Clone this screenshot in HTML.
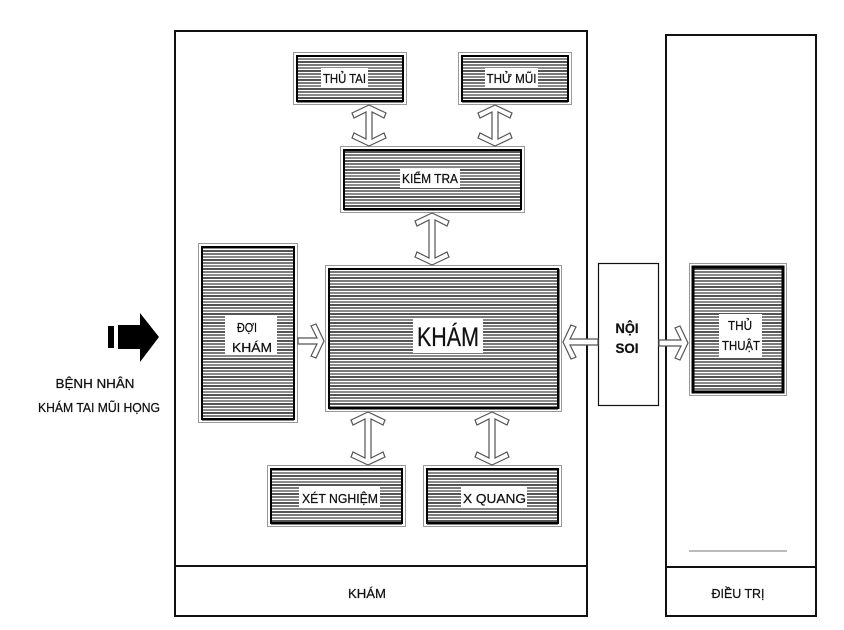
<!DOCTYPE html>
<html><head><meta charset="utf-8"><style>
html,body{margin:0;padding:0;background:#fff;}
svg{display:block;}
text{font-family:"Liberation Sans","DejaVu Sans",sans-serif;fill:#111;stroke:#111;stroke-width:0.25;}
</style></head><body>
<svg width="844" height="630" viewBox="0 0 844 630" xmlns="http://www.w3.org/2000/svg">
<defs>
<pattern id="h" width="8" height="9" patternUnits="userSpaceOnUse">
<rect width="8" height="9" fill="#fff"/>
<rect y="1" width="8" height="2" fill="#7a7a7a"/>
<rect y="4" width="8" height="2" fill="#8a8a8a"/>
<rect y="7" width="8" height="2" fill="#555"/>
</pattern>
</defs>
<rect width="844" height="630" fill="#fff"/>

<!-- left big arrow -->
<rect x="108" y="326" width="6" height="22" fill="#000"/>
<polygon points="118,325 140,325 140,313 159,337 140,362 140,349 118,349" fill="#000"/>
<text x="95" y="388" font-size="13" text-anchor="middle" textLength="79" lengthAdjust="spacingAndGlyphs">BỆNH NHÂN</text>
<text x="99" y="412" font-size="13" text-anchor="middle" textLength="122" lengthAdjust="spacingAndGlyphs">KHÁM TAI MŨI HỌNG</text>

<!-- frames -->
<rect x="175" y="31" width="412" height="585" fill="none" stroke="#111" stroke-width="2"/>
<line x1="175" y1="566" x2="587" y2="566" stroke="#111" stroke-width="2"/>
<text x="367" y="598" font-size="13" text-anchor="middle" textLength="38" lengthAdjust="spacingAndGlyphs">KHÁM</text>

<rect x="666" y="35" width="150" height="581" fill="none" stroke="#111" stroke-width="2"/>
<line x1="666" y1="567" x2="816" y2="567" stroke="#111" stroke-width="2"/>
<line x1="689" y1="551" x2="787" y2="551" stroke="#777" stroke-width="1"/>
<text x="738" y="598" font-size="13" text-anchor="middle" textLength="53" lengthAdjust="spacingAndGlyphs">ĐIỀU TRỊ</text>

<g>
<!-- THU TAI -->
<rect x="293.5" y="52.5" width="113" height="52" fill="#fff" stroke="#999" stroke-width="1"/>
<rect x="297" y="56" width="106" height="45" fill="url(#h)" stroke="#000" stroke-width="2"/>
<line x1="297" y1="101.5" x2="403" y2="101.5" stroke="#000" stroke-width="2"/>
<rect x="321" y="68" width="47" height="19" fill="#fff"/>
<text x="344.5" y="83" font-size="13" text-anchor="middle" textLength="43" lengthAdjust="spacingAndGlyphs">THỦ TAI</text>

<!-- THU MUI -->
<rect x="458.5" y="52.5" width="113" height="52" fill="#fff" stroke="#999" stroke-width="1"/>
<rect x="462" y="56" width="106" height="45" fill="url(#h)" stroke="#000" stroke-width="2"/>
<line x1="462" y1="101.5" x2="568" y2="101.5" stroke="#000" stroke-width="2"/>
<rect x="485" y="68" width="53" height="19" fill="#fff"/>
<text x="511.5" y="83" font-size="13" text-anchor="middle" textLength="50" lengthAdjust="spacingAndGlyphs">THỬ MŨI</text>

<!-- KIEM TRA -->
<rect x="340.5" y="146.5" width="184" height="66" fill="#fff" stroke="#999" stroke-width="1"/>
<rect x="344" y="150" width="177" height="59" fill="url(#h)" stroke="#000" stroke-width="2"/>
<line x1="344" y1="209.5" x2="521" y2="209.5" stroke="#000" stroke-width="2"/>
<rect x="400" y="168" width="60" height="20" fill="#fff"/>
<text x="430" y="183" font-size="13" text-anchor="middle" textLength="56" lengthAdjust="spacingAndGlyphs">KIỂM TRA</text>

<!-- DOI KHAM -->
<rect x="198.5" y="243.5" width="99" height="179" fill="#fff" stroke="#999" stroke-width="1"/>
<rect x="202" y="247" width="92" height="172" fill="url(#h)" stroke="#000" stroke-width="2"/>
<line x1="202" y1="419.5" x2="294" y2="419.5" stroke="#000" stroke-width="2"/>
<rect x="225" y="315" width="52" height="40" fill="#fff"/>
<text x="247" y="332" font-size="13" text-anchor="middle" textLength="20" lengthAdjust="spacingAndGlyphs">ĐỢI</text>
<text x="252" y="352" font-size="13" text-anchor="middle" textLength="40" lengthAdjust="spacingAndGlyphs">KHÁM</text>

<!-- KHAM main -->
<rect x="325.5" y="265.5" width="236" height="146" fill="#fff" stroke="#999" stroke-width="1"/>
<rect x="329" y="269" width="229" height="139" fill="url(#h)" stroke="#000" stroke-width="2"/>
<line x1="329" y1="408.5" x2="558" y2="408.5" stroke="#000" stroke-width="2"/>
<line x1="558.5" y1="269" x2="558.5" y2="409" stroke="#000" stroke-width="2"/>
<rect x="413" y="319" width="70" height="34" fill="#fff"/>
<text x="448" y="346" font-size="27" text-anchor="middle" textLength="62" lengthAdjust="spacingAndGlyphs">KHÁM</text>

<!-- THU THUAT -->
<rect x="689.5" y="263.5" width="97" height="132" fill="#fff" stroke="#999" stroke-width="1"/>
<rect x="693" y="267" width="90" height="125" fill="url(#h)" stroke="#000" stroke-width="3"/>
<rect x="719" y="314" width="43" height="43" fill="#fff"/>
<text x="740" y="330" font-size="13" text-anchor="middle" textLength="24" lengthAdjust="spacingAndGlyphs">THỦ</text>
<text x="741" y="350" font-size="13" text-anchor="middle" textLength="38" lengthAdjust="spacingAndGlyphs">THUẬT</text>

<!-- XET NGHIEM -->
<rect x="267.5" y="465.5" width="138" height="61" fill="#fff" stroke="#999" stroke-width="1"/>
<rect x="271" y="469" width="131" height="54" fill="url(#h)" stroke="#000" stroke-width="2"/>
<line x1="271" y1="523.5" x2="402" y2="523.5" stroke="#000" stroke-width="2"/>
<rect x="299" y="487" width="81" height="21" fill="#fff"/>
<text x="340" y="503" font-size="13" text-anchor="middle" textLength="76" lengthAdjust="spacingAndGlyphs">XÉT NGHIỆM</text>

<!-- X QUANG -->
<rect x="423.5" y="465.5" width="138" height="61" fill="#fff" stroke="#999" stroke-width="1"/>
<rect x="427" y="469" width="131" height="54" fill="url(#h)" stroke="#000" stroke-width="2"/>
<line x1="427" y1="523.5" x2="558" y2="523.5" stroke="#000" stroke-width="2"/>
<rect x="461" y="487" width="66" height="21" fill="#fff"/>
<text x="494.5" y="503" font-size="13" text-anchor="middle" textLength="63" lengthAdjust="spacingAndGlyphs">X QUANG</text>
</g>

<!-- NOI SOI -->
<rect x="598.5" y="263.5" width="60" height="142" fill="#fff" stroke="#111" stroke-width="1.2"/>
<text x="627" y="333" font-size="14" font-weight="bold" text-anchor="middle" textLength="23" lengthAdjust="spacingAndGlyphs">NỘI</text>
<text x="627" y="353" font-size="14" font-weight="bold" text-anchor="middle" textLength="23" lengthAdjust="spacingAndGlyphs">SOI</text>

<!-- arrows -->
<g fill="#fff" stroke="#555" stroke-width="1.2" stroke-linejoin="miter">
<polygon points="369,105 386,113 384,118 372,112 372,139 384,133 386,138 369,146 352,138 354,133 366,139 366,112 354,118 352,113"/>
<polygon points="495,105 512,113 510,118 498,112 498,139 510,133 512,138 495,146 478,138 480,133 492,139 492,112 480,118 478,113"/>
<polygon points="432,213 449,221 447,226 435,220 435,258 447,252 449,257 432,265 415,257 417,252 429,258 429,220 417,226 415,221"/>
<polygon points="368,412 385,420 383,425 371,419 371,458 383,452 385,457 368,465 351,457 353,452 365,458 365,419 353,425 351,420"/>
<polygon points="492,412 509,420 507,425 495,419 495,458 507,452 509,457 492,465 475,457 477,452 489,458 489,419 477,425 475,420"/>
<polygon points="298,338 317,338 311,326 316,324 324,341 316,358 311,356 317,344 298,344"/>
<polygon points="598,339 570,339 576,327 571,325 563,342 571,359 576,357 570,345 598,345"/>
<polygon points="659,340 681,340 675,328 680,326 688,343 680,360 675,358 681,346 659,346"/>
</g>
</svg>
</body></html>
